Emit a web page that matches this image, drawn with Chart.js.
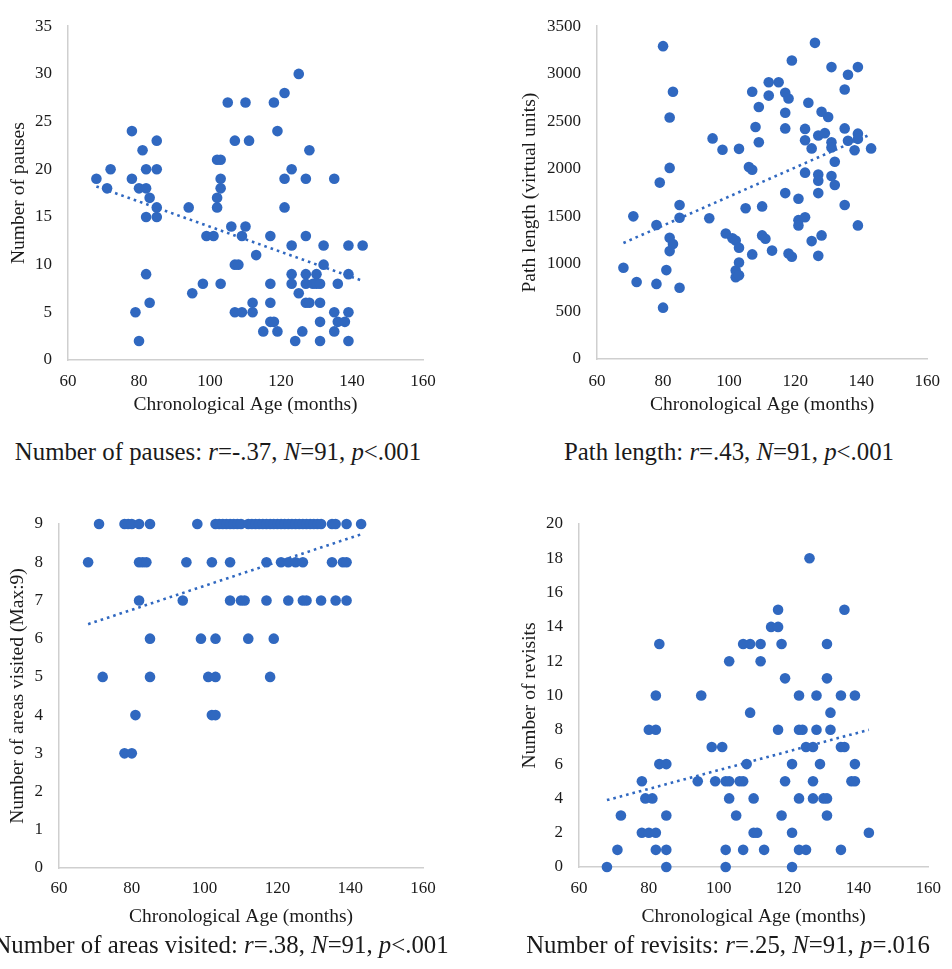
<!DOCTYPE html>
<html>
<head>
<meta charset="utf-8">
<script src="https://cdn.jsdelivr.net/npm/chart.js@4"></script>
<style>
  html, body { margin: 0; padding: 0; background: #fff; }
  body { width: 952px; height: 969px; position: relative; overflow: hidden; }
  .panel { position: absolute; }
  .cap { position: absolute; width: 640px; text-align: center; white-space: nowrap;
         font-family: 'Liberation Serif', 'Times New Roman', serif; font-size: 24.8px; color: #1a1a1a; line-height: 30px; }
</style>
</head>
<body>
<div class="panel" style="left:0;top:0"><canvas id="c1" width="476" height="420"></canvas></div>
<div class="panel" style="left:476px;top:0"><canvas id="c2" width="476" height="420"></canvas></div>
<div class="panel" style="left:0;top:480px"><canvas id="c3" width="476" height="460"></canvas></div>
<div class="panel" style="left:476px;top:480px"><canvas id="c4" width="476" height="460"></canvas></div>
<div class="cap" id="cap1" style="left:-102px;top:437px"></div>
<div class="cap" id="cap2" style="left:409px;top:437px"></div>
<div class="cap" id="cap3" style="left:-99px;top:930px"></div>
<div class="cap" id="cap4" style="left:408px;top:930px"></div>
<script>
// ---------- data ----------
const ageTicks = [60, 80, 100, 120, 140, 160];
const xTitle = 'Chronological Age (months)';

const pausesTicks = [0, 5, 10, 15, 20, 25, 30, 35];
const pausesAge = [68,71,72,78,78,79,80,80,81,82,82,82,82,83,83,85,85,85,85,94,95,98,99,101,102,103,103,103,102,102,103,105,106,107,107,108,107,109,109,110,110,111,112,112,113,115,117,117,117,117,118,118,119,119,121,121,121,123,123,123,123,124,125,125,126,127,127,127,127,127,128,128,129,130,130,131,131,131,131,132,132,135,135,135,136,136,138,139,139,139,139,143];
const pausesVal = [19,18,20,24,19,5,18,2,22,20,18,15,9,17,6,23,20,16,15,16,7,8,13,13,21,21,19,18,17,16,8,27,14,23,10,10,5,13,5,27,14,23,6,5,11,3,13,8,6,4,4,27,24,3,28,19,16,20,12,9,8,2,30,7,3,19,13,9,8,6,22,6,8,9,8,8,6,4,2,12,10,19,5,3,8,4,4,12,9,5,2,12];
const pausesTrendAge = [68, 143];
const pausesTrend = [18.2, 8.3];

const pathTicks = [0, 500, 1000, 1500, 2000, 2500, 3000, 3500];
const pathAge = [68,71,72,78,78,79,80,80,81,82,82,82,82,83,83,85,85,85,94,95,98,99,101,102,102,102,103,103,103,103,105,106,107,107,107,108,109,109,110,110,111,112,112,113,115,117,117,117,117,118,118,119,119,121,121,121,123,123,123,123,124,125,125,126,127,127,127,127,127,128,128,129,130,131,131,131,131,132,132,135,135,135,136,136,138,139,139,139,139,143];
const pathVal = [960,1500,810,790,1410,1855,3290,540,935,2010,2540,1275,1135,2810,1210,1620,1485,750,1480,2320,2200,1320,1270,1245,930,860,1170,2210,1015,880,1585,2020,1990,2810,1100,2440,2650,2280,1605,1300,1265,2910,2770,1140,2910,2800,2590,2425,1745,2740,1110,1075,3140,1685,1460,1405,2420,2300,1960,1490,2695,2215,1240,3325,2350,1940,1875,1745,1085,2600,1300,2375,2545,3070,2280,2225,1925,2075,1830,2835,2425,1620,2990,2295,2195,3070,2370,2315,1405,2215];
const pathTrendAge = [68, 143];
const pathTrend = [1220, 2365];

const areasTicks = [0, 1, 2, 3, 4, 5, 6, 7, 8, 9];
const areasAge = [71,78,79,80,82,85,98,103,104,105,106,107,108,109,110,112,113,114,115,116,117,118,119,120,121,122,123,124,125,126,127,128,129,130,131,132,135,136,139,143,
  68,82,83,84,95,102,107,117,121,123,125,127,135,138,139,
  82,94,107,110,111,117,123,127,128,132,136,139,
  85,99,103,112,119,
  72,85,101,103,118,
  81,102,103,
  78,80];
const areasVal = [9,9,9,9,9,9,9,9,9,9,9,9,9,9,9,9,9,9,9,9,9,9,9,9,9,9,9,9,9,9,9,9,9,9,9,9,9,9,9,9,
  8,8,8,8,8,8,8,8,8,8,8,8,8,8,8,
  7,7,7,7,7,7,7,7,7,7,7,7,
  6,6,6,6,6,
  5,5,5,5,5,
  4,4,4,
  3,3];
const areasTrendAge = [68, 143];
const areasTrend = [6.38, 8.73];

const revisitsTicks = [0, 2, 4, 6, 8, 10, 12, 14, 16, 18, 20];
const revisitsAge = [68,71,72,78,78,79,80,80,81,82,82,82,82,83,83,85,85,85,85,94,95,98,99,101,102,102,102,103,103,103,105,106,107,107,107,108,109,109,110,110,111,112,112,113,115,117,117,117,118,118,119,119,121,121,121,123,123,123,123,124,125,125,126,127,127,127,128,128,129,130,131,131,131,131,132,132,135,135,135,136,136,138,139,139,139,143];
const revisitsVal = [0,1,3,5,2,4,2,8,4,8,10,2,1,13,6,6,3,1,0,5,10,7,5,7,1,0,5,12,4,5,3,5,5,13,1,6,13,9,4,2,2,13,12,1,14,14,15,8,13,3,11,5,6,2,0,10,8,4,1,8,1,7,18,7,5,4,10,8,6,4,13,11,4,3,9,8,10,7,1,15,7,5,5,6,10,2];
const revisitsTrendAge = [68, 143];
const revisitsTrend = [3.9, 8.0];

const captions = [
  'Number of pauses: <i>r</i>=-.37, <i>N</i>=91, <i>p</i>&lt;.001',
  'Path length: <i>r</i>=.43, <i>N</i>=91, <i>p</i>&lt;.001',
  'Number of areas visited: <i>r</i>=.38, <i>N</i>=91, <i>p</i>&lt;.001',
  'Number of revisits: <i>r</i>=.25, <i>N</i>=91, <i>p</i>=.016'
];

// ---------- drawing ----------
const SERIF = "'Liberation Serif', 'Times New Roman', serif";
Chart.defaults.font.family = SERIF;
Chart.defaults.color = '#1a1a1a';
const DOT = '#3068c0';
const AXIS = '#cfcfcf';

function makeChart(id, ages, vals, tAge, tVal, yTicks, yTitle, L) {
  const pts = ages.map((a, i) => ({x: a, y: vals[i]}));
  const trend = tAge.map((a, i) => ({x: a, y: tVal[i]}));
  new Chart(document.getElementById(id), {
    type: 'scatter',
    data: {
      datasets: [
        { type: 'line', data: trend, borderColor: DOT, borderWidth: 2.6, borderDash: [2.6, 4],
          pointRadius: 0, fill: false, order: 0, clip: false },
        { data: pts, backgroundColor: DOT, borderWidth: 0, pointRadius: 5.3, pointHoverRadius: 5.3, order: 1, clip: false }
      ]
    },
    options: {
      responsive: false, animation: false, devicePixelRatio: 1,
      layout: { padding: { left: 0, right: L.padR, top: L.padT, bottom: 0 } },
      plugins: { legend: { display: false }, tooltip: { enabled: false } },
      scales: {
        x: {
          type: 'linear', min: ageTicks[0], max: ageTicks[ageTicks.length - 1],
          afterBuildTicks: s => { s.ticks = ageTicks.map(v => ({value: v})); },
          afterFit: s => { s.height = L.xH; },
          grid: { display: false, drawTicks: false },
          border: { display: true, color: AXIS, width: 1.5 },
          ticks: { font: { size: 17 }, padding: L.xTickPad, callback: v => String(v), maxRotation: 0, autoSkip: false },
          title: { display: true, text: xTitle, font: { size: 19.5 }, padding: { top: 0, bottom: L.xTitlePad } }
        },
        y: {
          type: 'linear', min: yTicks[0], max: yTicks[yTicks.length - 1],
          afterBuildTicks: s => { s.ticks = yTicks.map(v => ({value: v})); },
          afterFit: s => { s.width = L.yW; },
          grid: { display: false, drawTicks: false },
          border: { display: true, color: AXIS, width: 1.5 },
          ticks: { font: { size: 17 }, padding: 16, callback: v => String(v), autoSkip: false },
          title: { display: true, text: yTitle, font: { size: 19.5 }, padding: { top: L.yTitlePad, bottom: 0 } }
        }
      }
    }
  });
}

makeChart('c1', pausesAge, pausesVal, pausesTrendAge, pausesTrend, pausesTicks, 'Number of pauses',
  { padR: 53, padT: 17, xH: 60, yW: 68, xTickPad: 11, xTitlePad: 3, yTitlePad: 7.6 });
makeChart('c2', pathAge, pathVal, pathTrendAge, pathTrend, pathTicks, 'Path length (virtual units)',
  { padR: 18, padT: 17, xH: 61, yW: 121, xTickPad: 12, xTitlePad: 3, yTitlePad: 42.6 });
makeChart('c3', areasAge, areasVal, areasTrendAge, areasTrend, areasTicks, 'Number of areas visited (Max:9)',
  { padR: 53, padT: 44, xH: 72, yW: 59, xTickPad: 10, xTitlePad: 11.6, yTitlePad: 6.6 });
makeChart('c4', revisitsAge, revisitsVal, revisitsTrendAge, revisitsTrend, revisitsTicks, 'Number of revisits',
  { padR: 18, padT: 44, xH: 73, yW: 103, xTickPad: 11, xTitlePad: 11.6, yTitlePad: 42.6 });

captions.forEach((c, i) => { document.getElementById('cap' + (i + 1)).innerHTML = c; });
</script>
</body>
</html>
